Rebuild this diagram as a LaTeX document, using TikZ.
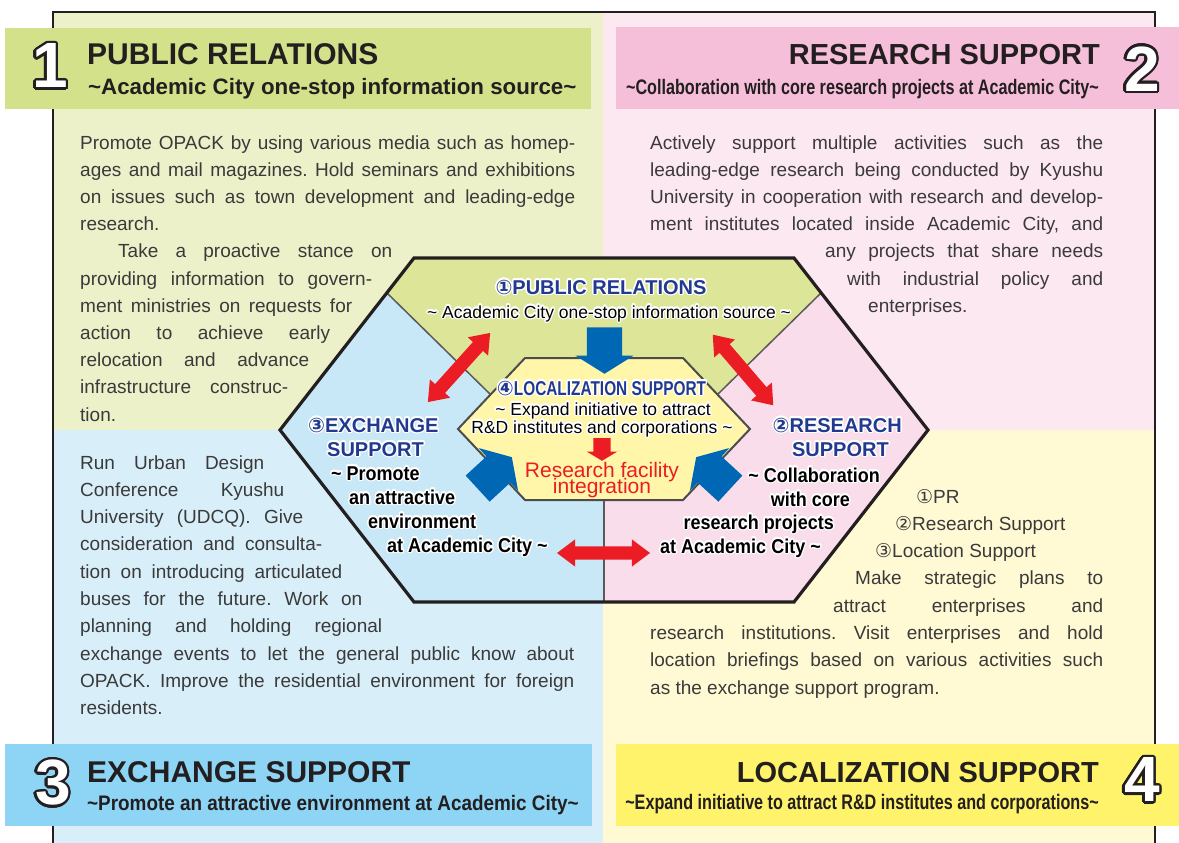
\documentclass[tikz,border=0pt]{standalone}
\usepackage{fontspec}
\setmainfont{Liberation Sans}
\newfontfamily\symfont{DejaVu Sans}
\newfontfamily\condfont[FakeStretch=0.9]{Liberation Sans}
\newfontfamily\narrowfont[FakeStretch=0.77]{Liberation Sans}
\usepackage{xcolor}
\usepackage{tikz}
\usepackage[copies]{contour}
\usetikzlibrary{shapes.arrows}

\definecolor{ink}{HTML}{231F20}
\definecolor{bodygray}{HTML}{3A3A3A}
\definecolor{navy}{HTML}{213A8F}
\definecolor{quadtl}{HTML}{EDF1C9}
\definecolor{quadtr}{HTML}{FCE8F0}
\definecolor{quadbl}{HTML}{D8EEF8}
\definecolor{quadbr}{HTML}{FFF9D4}
\definecolor{bartl}{HTML}{D3E18A}
\definecolor{bartr}{HTML}{F6BFD9}
\definecolor{barbl}{HTML}{8DD4F5}
\definecolor{barbr}{HTML}{FFF36B}
\definecolor{hexgreen}{HTML}{DDE698}
\definecolor{hexblue}{HTML}{C8E8F8}
\definecolor{hexpink}{HTML}{FADDEA}
\definecolor{hexyellow}{HTML}{FFF6AA}
\definecolor{arrred}{HTML}{EC1C24}
\definecolor{arrblue}{HTML}{0067B4}

\frenchspacing
\contourlength{1.3pt}
\contournumber{24}

\newcommand{\cn}[1]{{\symfont #1}}
\newcommand{\jl}[2]{\makebox[#1pt][s]{#2}}
\newcommand{\halo}[1]{\contour{white}{#1}}
\newcommand{\outnum}[1]{{\contourlength{2.4pt}\contour{ink}{\textcolor{white}{#1}}}}

\tikzstyle{body}=[anchor=base west,inner sep=0pt,text=bodygray,font=\fontsize{19}{19}\selectfont]
\tikzstyle{bartitle}=[inner sep=0pt,text=ink,font=\bfseries\fontsize{29}{29}\selectfont]
\tikzstyle{subwide}=[inner sep=0pt,text=ink,font=\bfseries\fontsize{22.3}{22.3}\selectfont]
\tikzstyle{subcond}=[inner sep=0pt,text=ink,font=\condfont\bfseries\fontsize{21}{21}\selectfont]
\tikzstyle{subnarrow}=[inner sep=0pt,text=ink,font=\narrowfont\bfseries\fontsize{21}{21}\selectfont]
\tikzstyle{bignum}=[inner sep=0pt,font=\bfseries\fontsize{64}{64}\selectfont]
\tikzstyle{hexhead}=[inner sep=0pt,text=navy,font=\bfseries\fontsize{20}{20}\selectfont]
\tikzstyle{hexlbl}=[inner sep=0pt,text=black,font=\condfont\bfseries\fontsize{20}{20}\selectfont]
\tikzstyle{hexsub}=[inner sep=0pt,anchor=base,text=black,font=\fontsize{17.5}{17.5}\selectfont]
\tikzstyle{redarrow}=[double arrow,fill=arrred,inner sep=6.5pt,minimum height=93pt,double arrow head extend=7pt,double arrow tip angle=74]
\tikzstyle{bluearrow}=[single arrow,fill=arrblue,inner sep=17.5pt,anchor=tip,minimum height=41pt,single arrow head extend=11.5pt,single arrow tip angle=116]
\tikzset{frame/.style={draw=ink,line width=2.5pt},
         divider/.style={draw=black!65,line width=1.5pt}}

\begin{document}
\begin{tikzpicture}[x=1pt,y=-1pt]

   \useasboundingbox (0,0) rectangle (1179,843);

   \fill[quadtl] (53,12) rectangle (603,430);
   \fill[quadtr] (603,12) rectangle (1155,430);
   \fill[quadbl] (53,430) rectangle (603,843);
   \fill[quadbr] (603,430) rectangle (1155,843);
   \draw[frame] (53,843) -- (53,12) -- (1155,12) -- (1155,843);

   \fill[bartl] (5,28) rectangle (591,109);
   \fill[bartr] (616,27) rectangle (1179,109);
   \fill[barbl] (5,744) rectangle (592,826);
   \fill[barbr] (616,744) rectangle (1179,826);

   \node[bignum] (n1) at (50,67) {\outnum{1}};
   \node[bignum] (n2) at (1142,70) {\outnum{2}};
   \node[bignum] (n3) at (53,784) {\outnum{3}};
   \node[bignum] (n4) at (1142,781) {\outnum{4}};

   \node[bartitle,anchor=base west,font=\bfseries\fontsize{30}{30}\selectfont] (t1) at (87,65) {PUBLIC RELATIONS};
   \node[subwide,anchor=base west] (s1) at (88,95) {\textasciitilde Academic City one-stop information source\textasciitilde};
   \node[bartitle,anchor=base east] (t2) at (1100,65) {RESEARCH SUPPORT};
   \node[subnarrow,anchor=base east] (s2) at (1099,95) {\textasciitilde Collaboration with core research projects at Academic City\textasciitilde};
   \node[bartitle,anchor=base west,font=\bfseries\fontsize{30}{30}\selectfont] (t3) at (87,782) {EXCHANGE SUPPORT};
   \node[subcond,anchor=base west] (s3) at (87,810) {\textasciitilde Promote an attractive environment at Academic City\textasciitilde};
   \node[bartitle,anchor=base east] (t4) at (1099,782) {LOCALIZATION SUPPORT};
   \node[subnarrow,anchor=base east] (s4) at (1099,809) {\textasciitilde Expand initiative to attract R\&D institutes and corporations\textasciitilde};

   % text of the four fields
   \foreach \n/\x/\w/\txt in {0/80/495/{Promote OPACK by using various media such as homep-},
                              1/80/495/{ages and mail magazines. Hold seminars and exhibitions},
                              2/80/495/{on issues such as town development and leading-edge},
                              4/118/274/{Take a proactive stance on},
                              5/80/292/{providing information to govern-},
                              6/80/272/{ment ministries on requests for},
                              7/80/250/{action to achieve early},
                              8/80/229/{relocation and advance},
                              9/80/208/{infrastructure construc-}}
          \node[body] (tl\n) at (\x,149+27.2*\n) {\jl{\w}{\txt}};
   \node[body] (tl3) at (80,149+27.2*3) {research.};
   \node[body] (tl10) at (80,149+27.2*10) {tion.};

   \foreach \n/\x/\w/\txt in {0/650/453/{Actively support multiple activities such as the},
                              1/650/453/{leading-edge research being conducted by Kyushu},
                              2/650/453/{University in cooperation with research and develop-},
                              3/650/453/{ment institutes located inside Academic City, and},
                              4/825/278/{any projects that share needs},
                              5/847/256/{with industrial policy and}}
          \node[body] (tr\n) at (\x,149+27.2*\n) {\jl{\w}{\txt}};
   \node[body] (tr6) at (868,149+27.2*6) {enterprises.};

   \foreach \n/\w/\txt in {0/184/{Run Urban Design},
                           1/204/{Conference Kyushu},
                           2/223/{University (UDCQ). Give},
                           3/242/{consideration and consulta-},
                           4/262/{tion on introducing articulated},
                           5/282/{buses for the future. Work on},
                           6/302/{planning and holding regional},
                           7/494/{exchange events to let the general public know about},
                           8/494/{OPACK. Improve the residential environment for foreign}}
          \node[body] (bl\n) at (80,469+27.3*\n) {\jl{\w}{\txt}};
   \node[body] (bl9) at (80,469+27.3*9) {residents.};

   \node[body] (br0) at (916,503) {\cn{①}PR};
   \node[body] (br1) at (895,503+27.3) {\cn{②}Research Support};
   \node[body] (br2) at (875,503+27.3*2) {\cn{③}Location Support};
   \foreach \n/\x/\w/\txt in {3/855/248/{Make strategic plans to},
                              4/833/270/{attract enterprises and},
                              5/650/453/{research institutions. Visit enterprises and hold},
                              6/650/453/{location briefings based on various activities such}}
          \node[body] (br\n) at (\x,503+27.3*\n) {\jl{\w}{\txt}};
   \node[body] (br7) at (650,503+27.3*7) {as the exchange support program.};

   % hexagon
   \fill[hexblue] (414,258) -- (604,258) -- (604,602) -- (414,602) -- (280,430) -- cycle;
   \fill[hexpink] (604,258) -- (794,258) -- (928,430) -- (794,602) -- (604,602) -- cycle;
   \fill[hexgreen] (414,258) -- (794,258) -- (821,293) -- (717,395) -- (491,395) -- (387,293) -- cycle;
   \draw[divider] (387,293) -- (491,395);
   \draw[divider] (821,293) -- (717,395);
   \draw[divider] (604,500) -- (604,602);
   \draw[fill=hexyellow,draw=black!70,line width=2pt] (525,358) -- (683,358) -- (750,429) -- (683,500) -- (525,500) -- (458,429) -- cycle;
   \draw[draw=ink,line width=3.2pt] (414,258) -- (794,258) -- (928,430) -- (794,602) -- (414,602) -- (280,430) -- cycle;

   \node[bluearrow,rotate=-90] (bpr) at (604.5,374) {};
   \node[bluearrow,rotate=42.6] (bex) at (512,457) {};
   \node[bluearrow,rotate=137.4] (brs) at (696,457) {};
   \node[redarrow,rotate=48] (prex) at (459,367.5) {};
   \node[redarrow,rotate=-49.4] (prrs) at (743,370) {};
   \node[redarrow] (exrs) at (603.5,553) {};
   \node[single arrow,fill=arrred,inner sep=8.5pt,anchor=tip,minimum height=22pt,
         single arrow head extend=6.5pt,single arrow tip angle=118,rotate=-90] (rfa) at (602,461) {};

   \node[hexhead,anchor=base] (pr) at (601,294) {\halo{\cn{①}PUBLIC RELATIONS}};
   \node[hexsub] (prsub) at (609,318) {\halo{\textasciitilde\ Academic City one-stop information source \textasciitilde}};
   \node[hexhead,anchor=base,font=\narrowfont\bfseries\fontsize{20}{20}\selectfont] (lc) at (601.5,395) {\halo{\cn{④}LOCALIZATION SUPPORT}};
   \node[hexsub] (lcsub1) at (603,415) {\halo{\textasciitilde\ Expand initiative to attract}};
   \node[hexsub] (lcsub2) at (602,433) {\halo{R\&D institutes and corporations \textasciitilde}};
   \node[inner sep=0pt,anchor=base,text=arrred,font=\fontsize{21}{21}\selectfont] (rf1) at (602,477) {Research facility};
   \node[inner sep=0pt,anchor=base,text=arrred,font=\fontsize{21}{21}\selectfont] (rf2) at (602,493) {integration};

   \node[hexhead,anchor=base west] (ex) at (308,432) {\halo{\cn{③}EXCHANGE}};
   \node[hexhead,anchor=base west] (exs) at (327,456) {\halo{SUPPORT}};
   \foreach \n/\x/\y/\txt in {1/331/480/{\textasciitilde\ Promote}, 2/349/504/{an attractive},
                              3/368/528/{environment}, 4/387/552/{at Academic City \textasciitilde}}
          \node[hexlbl,anchor=base west] (exl\n) at (\x,\y) {\halo{\txt}};

   \node[hexhead,anchor=base east] (rs) at (902,432) {\halo{\cn{②}RESEARCH}};
   \node[hexhead,anchor=base east] (rss) at (889,456) {\halo{SUPPORT}};
   \foreach \n/\x/\y/\txt in {1/880/482/{\textasciitilde\ Collaboration}, 2/850/506/{with core},
                              3/834/529/{research projects}, 4/821/553/{at Academic City \textasciitilde}}
          \node[hexlbl,anchor=base east] (rsl\n) at (\x,\y) {\halo{\txt}};

\end{tikzpicture}
\end{document}
